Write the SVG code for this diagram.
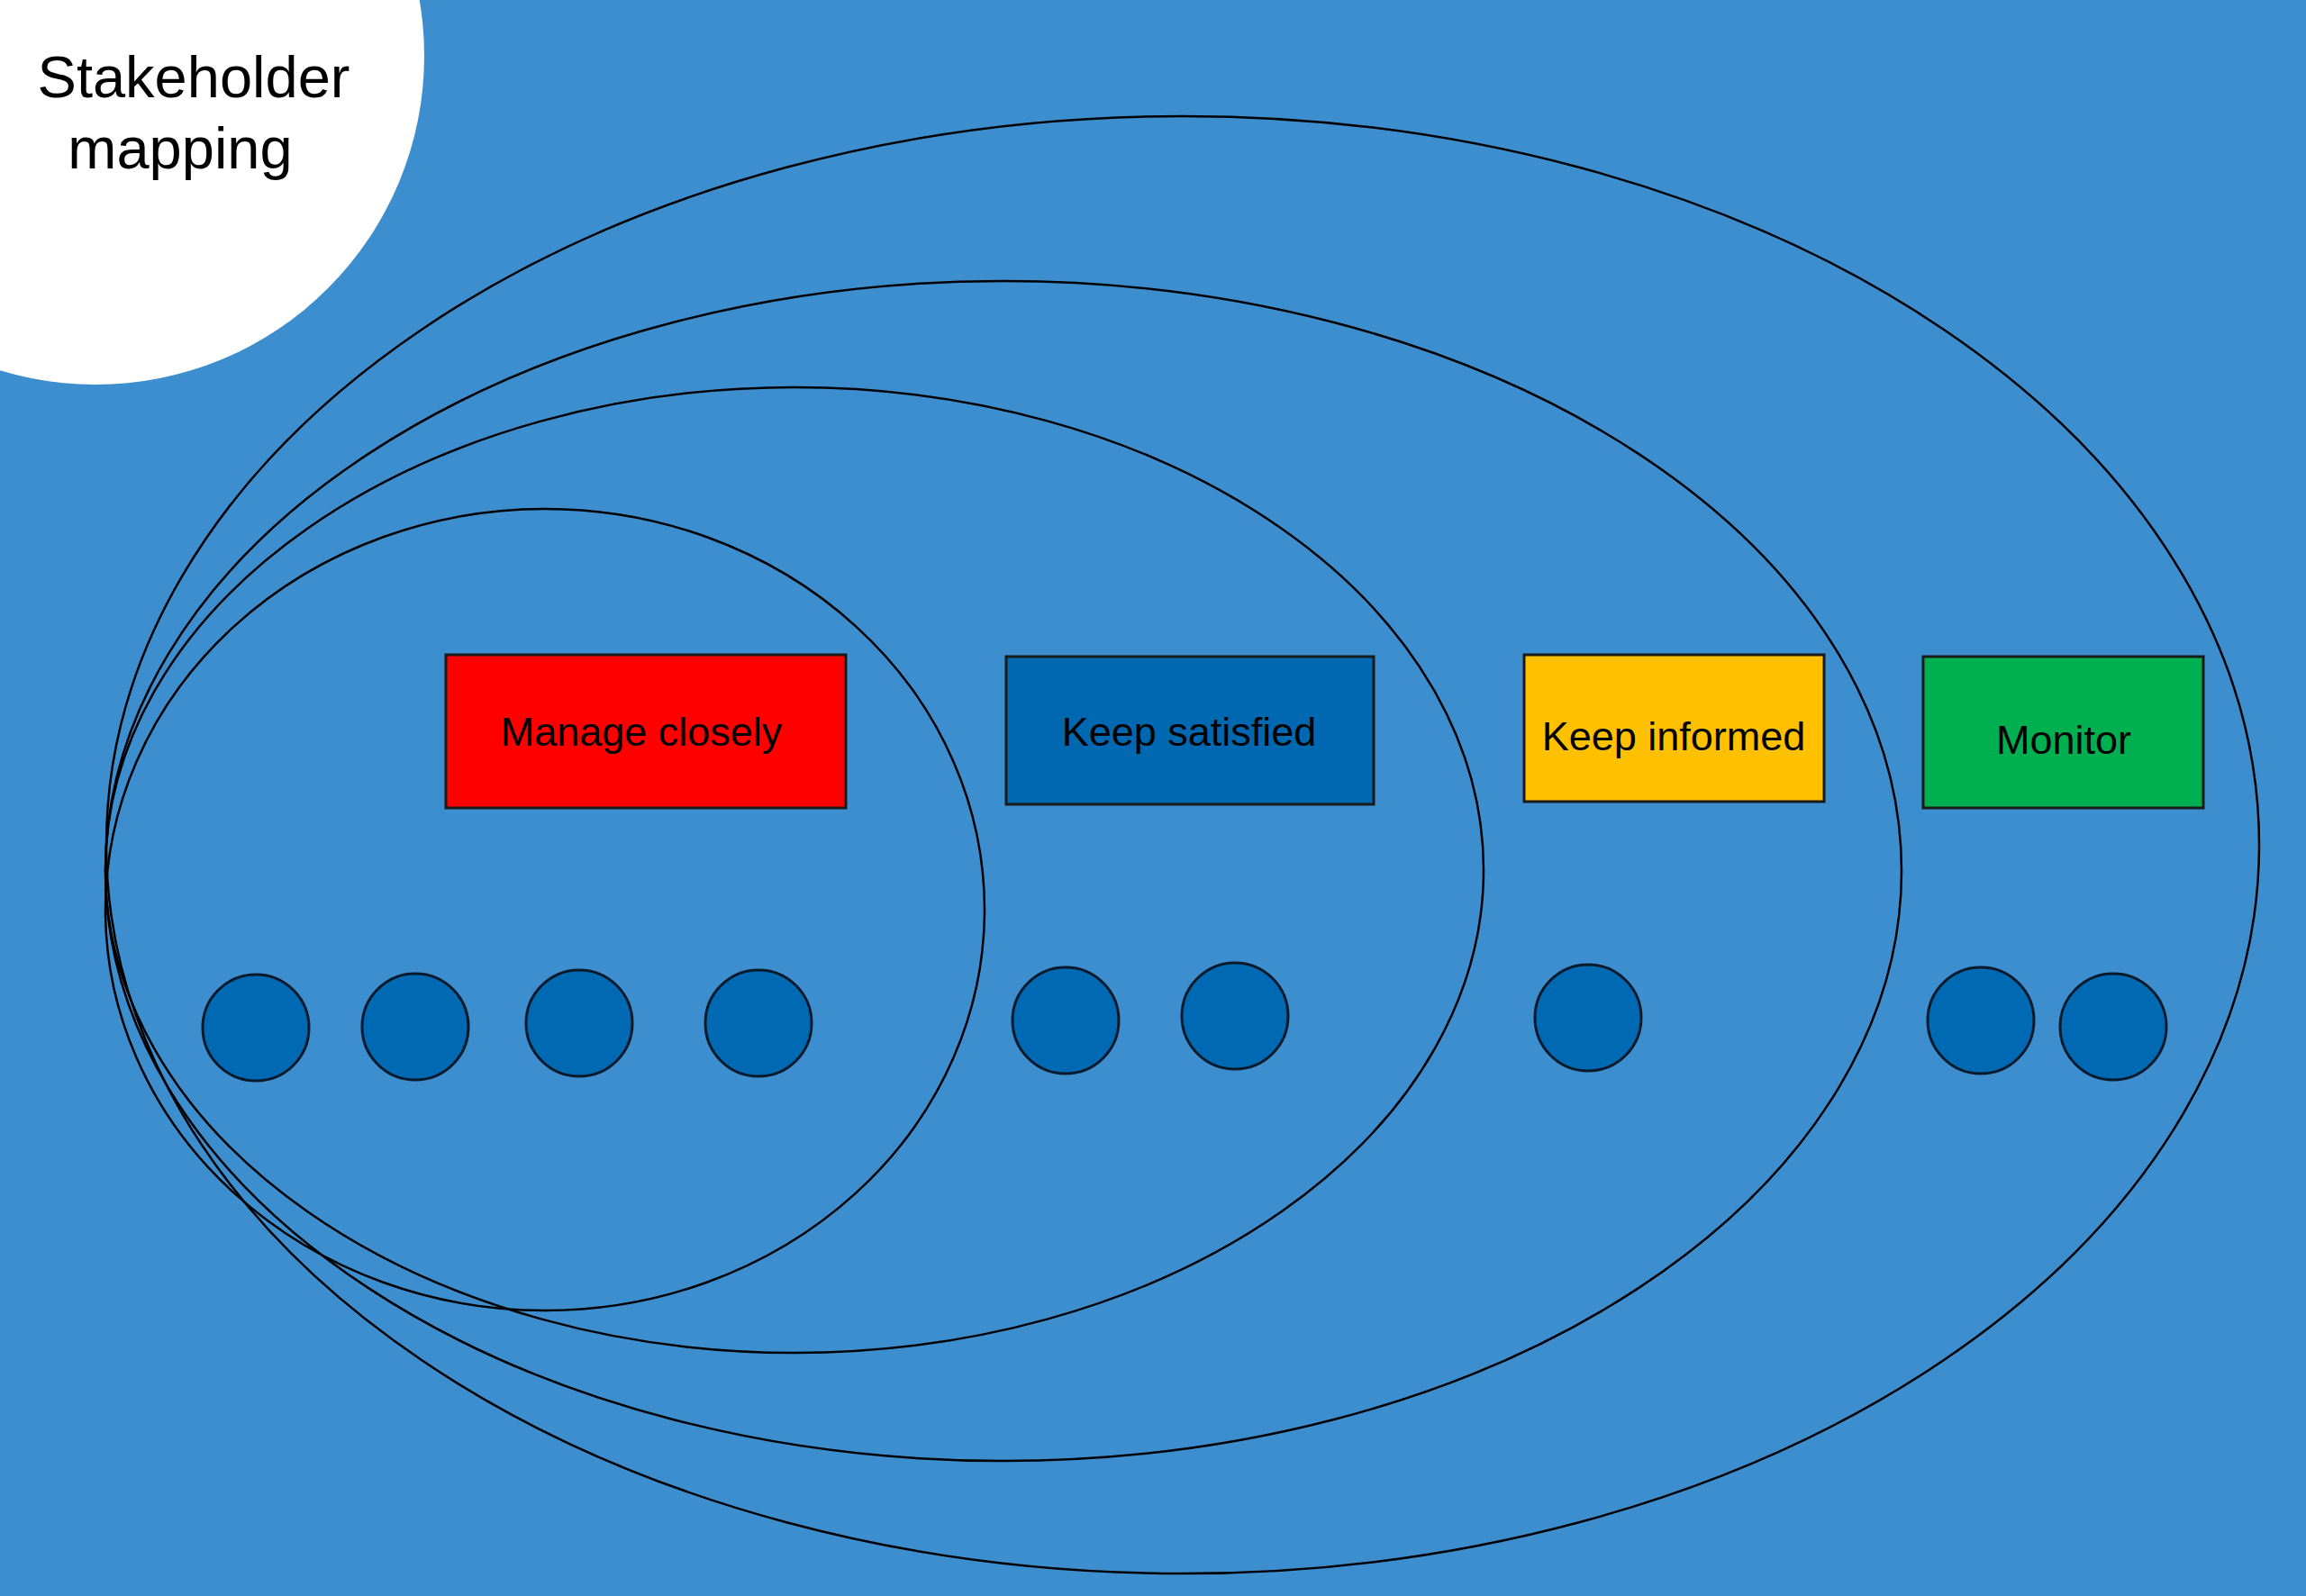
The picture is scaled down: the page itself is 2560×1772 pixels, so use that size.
<svg xmlns="http://www.w3.org/2000/svg" width="2560" height="1772" viewBox="0 0 2560 1772">
  <style>
    .ring { fill: none; stroke: #000; stroke-width: 2.5; }
    .box { stroke: #1a1a1a; stroke-width: 3; }
    .dot { fill: #0069B3; stroke: #0a1a2a; stroke-width: 3; }
    .lbl { font-family: "Liberation Sans", Arial, sans-serif; font-size: 45px; fill: #000; text-anchor: middle; }
    .title { font-family: "Liberation Sans", Arial, sans-serif; font-size: 65px; fill: #000; text-anchor: middle; }
  </style>
  <rect x="0" y="0" width="2560" height="1772" fill="#3C8ECF"/>
  <g id="title">
    <circle cx="106" cy="62" r="365" fill="#FFFFFF"/>
    <text class="title" x="215" y="108">Stakeholder</text>
    <text class="title" x="200" y="187">mapping</text>
  </g>
  <g id="rings">
    <ellipse class="ring" cx="1313" cy="938" rx="1195" ry="809"/>
    <ellipse class="ring" cx="1114" cy="967" rx="997" ry="655"/>
    <ellipse class="ring" cx="882" cy="966" rx="765" ry="536"/>
    <ellipse class="ring" cx="605" cy="1010" rx="488" ry="445"/>
  </g>
  <g id="manage-closely">
    <rect class="box" x="495" y="727" width="444" height="170" fill="#FF0000"/>
    <text class="lbl" x="712" y="828">Manage closely</text>
  </g>
  <g id="keep-satisfied">
    <rect class="box" x="1117" y="729" width="408" height="164" fill="#0068B1"/>
    <text class="lbl" x="1320" y="828">Keep satisfied</text>
  </g>
  <g id="keep-informed">
    <rect class="box" x="1692" y="727" width="333" height="163" fill="#FFC000"/>
    <text class="lbl" x="1858" y="833">Keep informed</text>
  </g>
  <g id="monitor">
    <rect class="box" x="2135" y="729" width="311" height="168" fill="#00B050"/>
    <text class="lbl" x="2291" y="837">Monitor</text>
  </g>
  <g id="stakeholders">
    <circle class="dot" cx="284" cy="1141" r="59"/>
    <circle class="dot" cx="461" cy="1140" r="59"/>
    <circle class="dot" cx="643" cy="1136" r="59"/>
    <circle class="dot" cx="842" cy="1136" r="59"/>
    <circle class="dot" cx="1183" cy="1133" r="59"/>
    <circle class="dot" cx="1371" cy="1128" r="59"/>
    <circle class="dot" cx="1763" cy="1130" r="59"/>
    <circle class="dot" cx="2199" cy="1133" r="59"/>
    <circle class="dot" cx="2346" cy="1140" r="59"/>
  </g>
</svg>
